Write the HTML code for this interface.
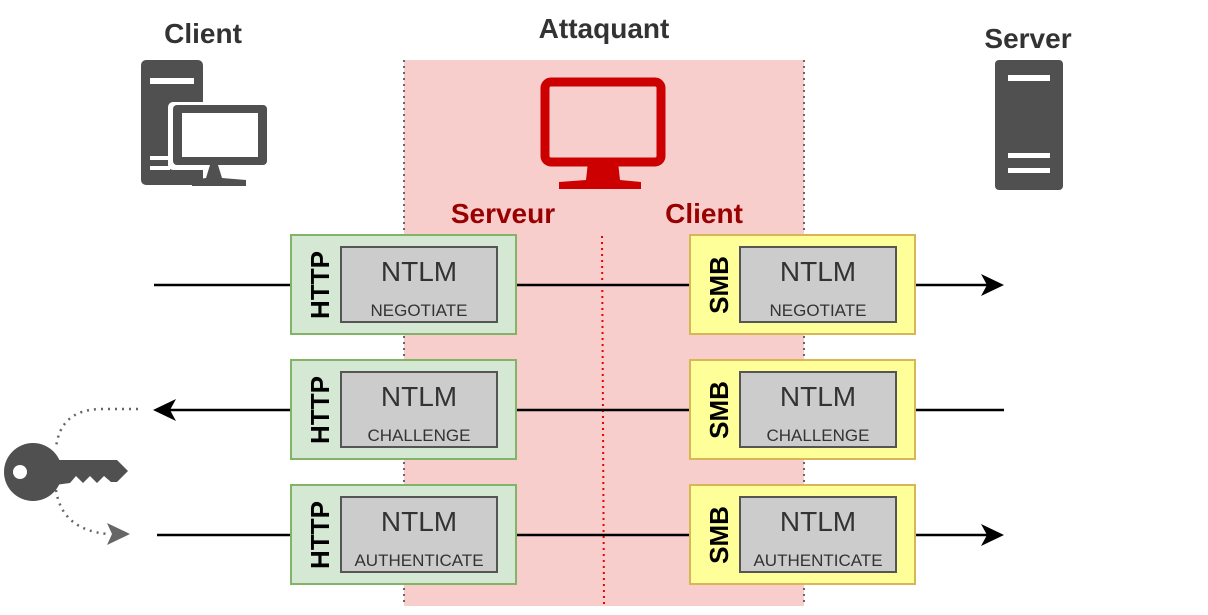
<!DOCTYPE html>
<html><head><style>body{margin:0;background:#fff}svg{display:block}text{font-family:"Liberation Sans",sans-serif}</style></head><body>
<svg width="1208" height="615" viewBox="0 0 1208 615" xmlns="http://www.w3.org/2000/svg">
<rect x="404" y="60" width="400" height="546" fill="#f8cecc"/>
<line x1="404" y1="60" x2="404" y2="606" stroke="#666" stroke-width="2" stroke-dasharray="2,4"/>
<line x1="804" y1="60" x2="804" y2="606" stroke="#666" stroke-width="2" stroke-dasharray="2,4"/>
<line x1="602" y1="236" x2="604" y2="606" stroke="#e00" stroke-width="2" stroke-dasharray="2,4"/>
<text x="203" y="43" font-size="28" font-weight="bold" fill="#333" text-anchor="middle">Client</text>
<text x="604" y="38" font-size="28" font-weight="bold" fill="#333" text-anchor="middle">Attaquant</text>
<text x="1028" y="48" font-size="28" font-weight="bold" fill="#333" text-anchor="middle">Server</text>
<text x="503" y="223" font-size="28" font-weight="bold" fill="#990000" text-anchor="middle">Serveur</text>
<text x="704" y="223" font-size="28" font-weight="bold" fill="#990000" text-anchor="middle">Client</text>
<!-- client icon -->
<rect x="141" y="60" width="62" height="125" rx="5" fill="#505050"/>
<rect x="150" y="78" width="44" height="6" fill="#fff"/>
<rect x="150" y="156" width="20" height="4" fill="#fff"/>
<rect x="150" y="166" width="20" height="4" fill="#fff"/>
<rect x="168" y="102" width="104" height="68" rx="5" fill="#fff"/>
<rect x="173" y="105" width="94" height="60" rx="4" fill="#505050"/>
<rect x="182" y="113" width="76" height="44" fill="#fff"/>
<path d="M210 165 L218 165 L222 178 L246 180 L246 186 L192 186 L192 180 L206 178 Z" fill="#505050"/>
<!-- attacker monitor -->
<rect x="545" y="82" width="116" height="80" rx="6" fill="none" stroke="#cc0000" stroke-width="9"/>
<path d="M588 162 L618 162 L620 180 L641 182 L641 189 L559 189 L559 182 L586 180 Z" fill="#cc0000"/>
<!-- server -->
<rect x="995" y="60" width="68" height="130" rx="4" fill="#505050"/>
<rect x="1008" y="75" width="42" height="6" fill="#fff"/>
<rect x="1008" y="153" width="42" height="5" fill="#fff"/>
<rect x="1008" y="168" width="42" height="5" fill="#fff"/>
<!-- lines -->
<g stroke="#000" stroke-width="2.5">
<line x1="154" y1="285" x2="291" y2="285"/><line x1="516" y1="285" x2="690" y2="285"/><line x1="915" y1="285" x2="990" y2="285"/>
<line x1="168" y1="410" x2="291" y2="410"/><line x1="516" y1="410" x2="690" y2="410"/><line x1="915" y1="410" x2="1004" y2="410"/>
<line x1="157" y1="535" x2="291" y2="535"/><line x1="516" y1="535" x2="690" y2="535"/><line x1="915" y1="535" x2="990" y2="535"/>
</g>
<path d="M1004 285 L981 274 L987 285 L981 296 Z" fill="#000"/>
<path d="M1004 535 L981 524 L987 535 L981 546 Z" fill="#000"/>
<path d="M153 410 L176 399 L170 410 L176 421 Z" fill="#000"/>
<!-- key -->
<path d="M138 409 L100 409 Q60 410 56 448" fill="none" stroke="#666" stroke-width="2.5" stroke-dasharray="2,5"/>
<path d="M56 490 Q62 530 108 534" fill="none" stroke="#666" stroke-width="2.5" stroke-dasharray="2,5"/>
<path d="M130 534 L107 523 L112 534 L107 545 Z" fill="#666"/>
<circle cx="33" cy="472" r="29" fill="#505050"/>
<circle cx="20" cy="472" r="7" fill="#fff"/>
<path d="M55 460 L117 460 L128 471 L117 482 L111 482 L104 476 L97 483 L90 476 L83 483 L76 476 L70 483 L55 485 Z" fill="#505050"/>
<!-- boxes -->
<g id="r">
</g>
<g font-size="28" text-anchor="middle" fill="#333">
<!-- row template -->
</g>
<g>
<rect x="291" y="235" width="225" height="99" fill="#d5e8d4" stroke="#82b366" stroke-width="2"/>
<rect x="341" y="247" width="156" height="75" fill="#ccc" stroke="#555" stroke-width="2"/>
<rect x="690" y="235" width="225" height="99" fill="#ffff99" stroke="#d6b656" stroke-width="2"/>
<rect x="740" y="247" width="156" height="75" fill="#ccc" stroke="#555" stroke-width="2"/>
<rect x="291" y="360" width="225" height="99" fill="#d5e8d4" stroke="#82b366" stroke-width="2"/>
<rect x="341" y="372" width="156" height="75" fill="#ccc" stroke="#555" stroke-width="2"/>
<rect x="690" y="360" width="225" height="99" fill="#ffff99" stroke="#d6b656" stroke-width="2"/>
<rect x="740" y="372" width="156" height="75" fill="#ccc" stroke="#555" stroke-width="2"/>
<rect x="291" y="485" width="225" height="99" fill="#d5e8d4" stroke="#82b366" stroke-width="2"/>
<rect x="341" y="497" width="156" height="75" fill="#ccc" stroke="#555" stroke-width="2"/>
<rect x="690" y="485" width="225" height="99" fill="#ffff99" stroke="#d6b656" stroke-width="2"/>
<rect x="740" y="497" width="156" height="75" fill="#ccc" stroke="#555" stroke-width="2"/>
</g>
<g font-size="28" text-anchor="middle" fill="#333">
<text x="419" y="281">NTLM</text><text x="818" y="281">NTLM</text>
<text x="419" y="406">NTLM</text><text x="818" y="406">NTLM</text>
<text x="419" y="531">NTLM</text><text x="818" y="531">NTLM</text>
</g>
<g font-size="17" text-anchor="middle" fill="#333">
<text x="419" y="316">NEGOTIATE</text><text x="818" y="316">NEGOTIATE</text>
<text x="419" y="441">CHALLENGE</text><text x="818" y="441">CHALLENGE</text>
<text x="419" y="566">AUTHENTICATE</text><text x="818" y="566">AUTHENTICATE</text>
</g>
<g font-size="26" font-weight="bold" text-anchor="middle" fill="#000">
<text transform="translate(329,285) rotate(-90)">HTTP</text>
<text transform="translate(329,410) rotate(-90)">HTTP</text>
<text transform="translate(329,535) rotate(-90)">HTTP</text>
<text transform="translate(728,285) rotate(-90)">SMB</text>
<text transform="translate(728,410) rotate(-90)">SMB</text>
<text transform="translate(728,535) rotate(-90)">SMB</text>
</g>
</svg>
</body></html>
